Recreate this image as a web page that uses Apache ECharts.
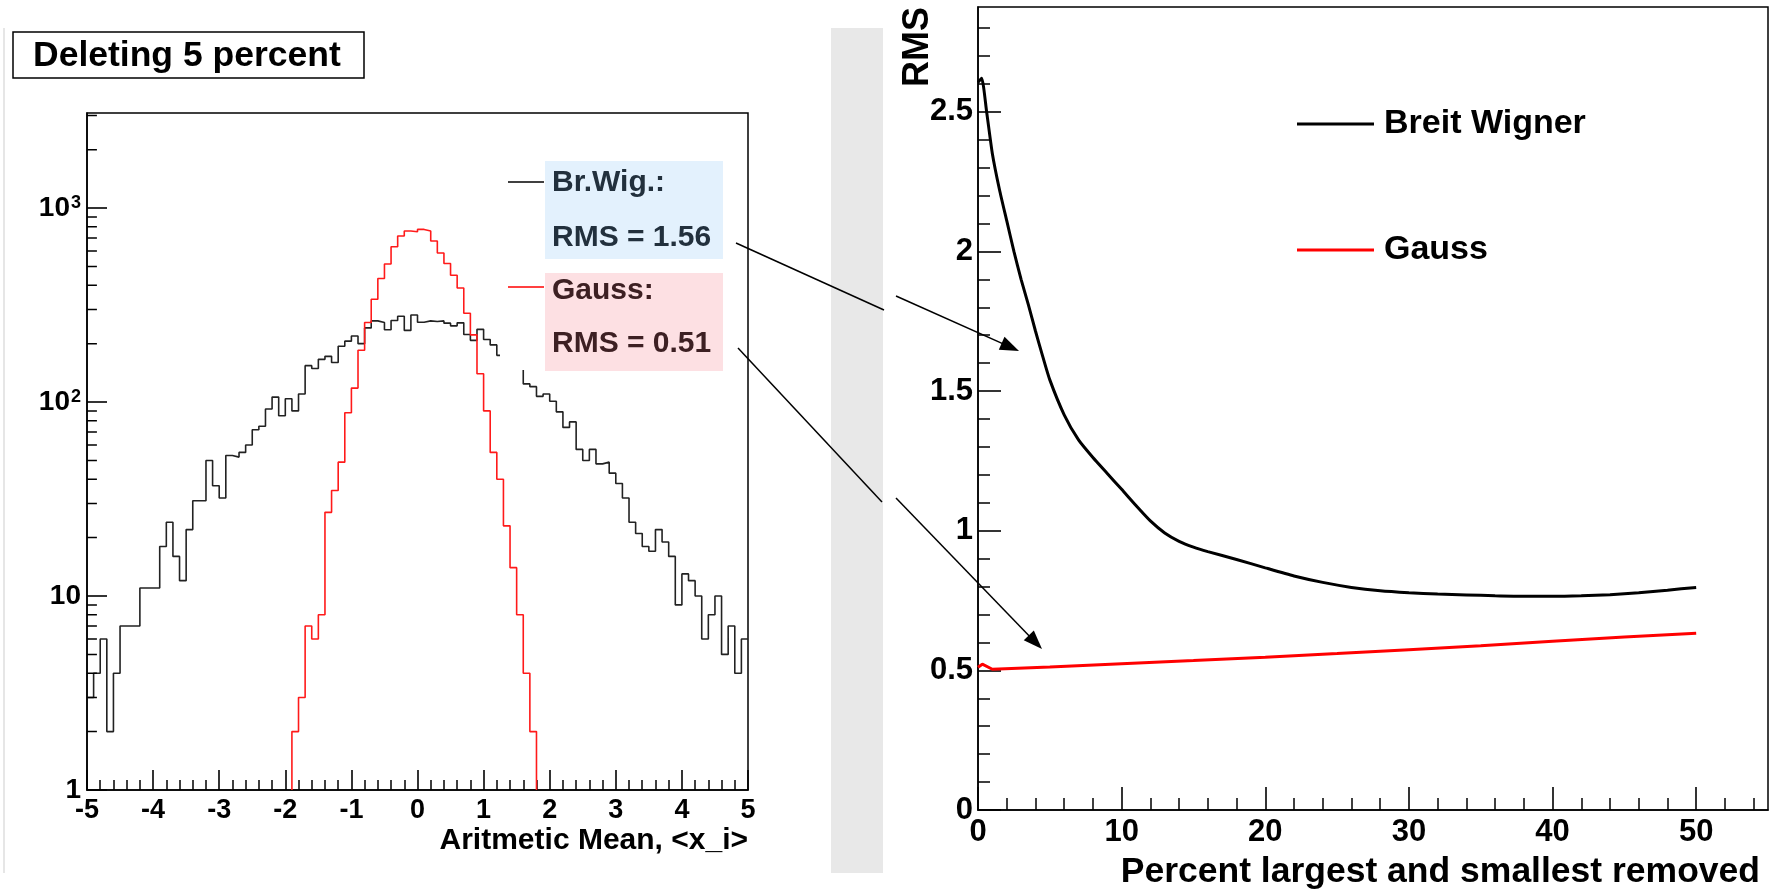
<!DOCTYPE html>
<html><head><meta charset="utf-8">
<script src="https://cdn.jsdelivr.net/npm/echarts@6/dist/echarts.min.js"></script>
<style>html,body{margin:0;padding:0;background:#fff}#c{width:1783px;height:892px}</style>
</head><body><div id="c"></div>
<script>
// ---------- data ----------
const histMin = -5, binWidth = 0.1;
// Breit-Wigner sample histogram (100 bins, -5..5)
const bwCounts = [
  3,4,6,2,4,7,7,7,11,11,
  11,18,24,16,12,22,31,31,50,37,
  32,53,52,55,60,72,75,92,106,85,
  104,90,110,154,149,166,172,160,194,206,
  219,200,241,262,257,236,263,277,234,281,
  258,262,260,262,255,247,256,223,208,237,
  210,197,174,170,160,150,124,120,107,110,
  101,89,74,79,57,50,57,48,49,43,
  38,32,24,21,18,17,22,19,16,9,
  13,12,10,6,8,10,5,7,4,6];
// Gauss sample histogram (100 bins, -5..5)
const gaussCounts = [
  0,0,0,0,0,0,0,0,0,0,
  0,0,0,0,0,0,0,0,0,0,
  0,0,0,0,0,0,0,0,0,0,
  0,2,3,7,6,8,27,35,49,88,
  118,185,257,339,433,515,632,718,762,755,
  776,762,676,586,518,450,387,287,222,140,
  90,55,40,23,14,8,4,2,0,0,
  0,0,0,0,0,0,0,0,0,0,
  0,0,0,0,0,0,0,0,0,0,
  0,0,0,0,0,0,0,0,0,0];
// RMS vs percent removed
const pctBW = [0,0.25,0.6,1,1.5,2,2.5,3,3.5,4,4.5,5,6,7,8,9,10,11,12,13,14,15,16,18,20,22,24,26,28,30,32,34,36,38,40,42,44,46,48,50];
const rmsBW = [2.605,2.62,2.50,2.35,2.22,2.11,2.00,1.90,1.81,1.715,1.625,1.54,1.415,1.325,1.262,1.205,1.148,1.09,1.035,0.992,0.962,0.941,0.925,0.897,0.867,0.838,0.815,0.797,0.785,0.778,0.773,0.770,0.767,0.765,0.765,0.767,0.771,0.778,0.787,0.797];
const pctG = [0,0.3,1,5,10,15,20,25,30,35,40,45,50];
const rmsG = [0.511,0.522,0.504,0.512,0.524,0.535,0.547,0.560,0.574,0.588,0.604,0.619,0.633];
// axis ticks
const leftXTicks = [-5,-4,-3,-2,-1,0,1,2,3,4,5];
const leftYTicks = [1,10,100,1000];
const leftYMinor = [2,3,4,5,6,7,8,9,20,30,40,50,60,70,80,90,200,300,400,500,600,700,800,900,2000,3000];
const rightXTicks = [0,10,20,30,40,50];
const rightYTicks = [0,0.5,1,1.5,2,2.5];
const rightYMinor = [0.1,0.2,0.3,0.4,0.6,0.7,0.8,0.9,1.1,1.2,1.3,1.4,1.6,1.7,1.8,1.9,2.1,2.2,2.3,2.4,2.6,2.7,2.8];
const rightXMinor = [2,4,6,8,12,14,16,18,22,24,26,28,32,34,36,38,42,44,46,48,52,54];
const leftXMinor = [];
for (let i = 0; i < 10; i++) for (let j = 1; j < 5; j++) leftXMinor.push(+(-5 + i + j * 0.2).toFixed(1));

// ---------- helpers ----------
const F = '"Liberation Sans", Arial, Helvetica, sans-serif';
function stepPath(counts, floor) {
  const pts = []; let prev = 0;
  counts.forEach((v, i) => {
    const x0 = +(histMin + i * binWidth).toFixed(2), x1 = +(histMin + (i + 1) * binWidth).toFixed(2);
    if (v > 0) { if (prev === 0 && i > 0) pts.push([x0, floor]); pts.push([x0, v], [x1, v]); }
    else if (prev > 0) pts.push([x0, floor]);
    prev = v;
  });
  return pts;
}
// short horizontal segments at each minor log value, starting at the y axis (x = histMin)
const minorLen = 0.15; // in x-axis units
const logMinorSegments = [];
leftYMinor.forEach(v => { logMinorSegments.push([histMin, v], [histMin + minorLen, v], ['-', '-']); });

const axLine = {show: true, onZero: false, lineStyle: {color: '#000', width: 1.5}};
const lbl = (size, extra) => Object.assign({color: '#000', fontSize: size, fontWeight: 'bold', fontFamily: F}, extra || {});
function minorAxis(grid, type, pos, min, max, vals, len, extra) {
  return Object.assign({gridIndex: grid, type: type, position: pos, min: min, max: max,
    axisLine: {show: false, onZero: false}, axisLabel: {show: false}, splitLine: {show: false},
    axisTick: {show: true, inside: true, length: len, customValues: vals, lineStyle: {color: '#000', width: 1.5}}}, extra || {});
}
function arrowHead(tip, from, len, half) {
  const dx = tip[0] - from[0], dy = tip[1] - from[1], d = Math.hypot(dx, dy);
  const ux = dx / d, uy = dy / d, bx = tip[0] - ux * len, by = tip[1] - uy * len;
  return [tip, [bx - uy * half, by + ux * half], [bx + uy * half, by - ux * half]];
}
const a1from = [896, 296], a1tip = [1019, 351];
const a2from = [896, 498], a2tip = [1042, 649];

const chart = echarts.init(document.getElementById('c'), null, {renderer: 'canvas'});
chart.setOption({
  animation: false,
  backgroundColor: '#fff',
  textStyle: {fontFamily: F},
  grid: [
    {left: 87, top: 113, width: 661, height: 677, show: true, borderColor: '#000', borderWidth: 1.5, backgroundColor: 'transparent', containLabel: false, outerBoundsMode: 'none'},
    {left: 978, top: 7, width: 790, height: 803, show: true, borderColor: '#000', borderWidth: 1.5, backgroundColor: 'transparent', containLabel: false, outerBoundsMode: 'none'}
  ],
  legend: {
    data: ['Breit Wigner', 'Gauss'], orient: 'vertical', left: 1292, top: 99,
    itemWidth: 77, itemHeight: 3, itemGap: 86, icon: 'rect', selectedMode: false,
    textStyle: lbl(34, {lineHeight: 40, padding: [0, 0, 0, 5]})
  },
  xAxis: [
    {gridIndex: 0, type: 'value', position: 'bottom', min: -5, max: 5, interval: 1,
      axisLine: axLine,
      axisTick: {show: true, inside: true, length: 20, customValues: leftXTicks, lineStyle: {color: '#000', width: 1.6}},
      axisLabel: lbl(27, {margin: 7, customValues: leftXTicks, showMinLabel: true, showMaxLabel: true, hideOverlap: false}),
      splitLine: {show: false},
      name: 'Aritmetic Mean, <x_i>', nameLocation: 'end', nameGap: 0, nameMoveOverlap: false,
      nameTextStyle: lbl(30, {align: 'right', verticalAlign: 'top', padding: [36, 0, 0, 0]})},
    minorAxis(0, 'value', 'bottom', -5, 5, leftXMinor, 10),
    {gridIndex: 1, type: 'value', position: 'bottom', min: 0, max: 55,
      axisLine: axLine,
      axisTick: {show: true, inside: true, length: 23, customValues: rightXTicks, lineStyle: {color: '#000', width: 1.6}},
      axisLabel: lbl(31, {margin: 7, customValues: rightXTicks, showMinLabel: true, hideOverlap: false}),
      splitLine: {show: false},
      name: 'Percent largest and smallest removed', nameLocation: 'end', nameGap: 0, nameMoveOverlap: false,
      nameTextStyle: lbl(35.5, {align: 'right', verticalAlign: 'top', padding: [44, 8, 0, 0]})},
    minorAxis(1, 'value', 'bottom', 0, 55, rightXMinor, 12)
  ],
  yAxis: [
    {gridIndex: 0, type: 'log', logBase: 10, position: 'left', min: 1, max: 3090,
      axisLine: axLine,
      axisTick: {show: true, inside: true, length: 20, customValues: leftYTicks, lineStyle: {color: '#000', width: 1.6}},
      axisLabel: {margin: 6, customValues: leftYTicks, showMinLabel: true, hideOverlap: false,
        formatter: v => { const e = Math.round(Math.log10(v)); return e === 0 ? '{b|1}' : e === 1 ? '{b|10}' : '{b|10}{s|' + e + '}'; },
        rich: {b: lbl(28), s: lbl(18, {verticalAlign: 'top', padding: [0, 0, 8, 1]})}},
      splitLine: {show: false}, minorTick: {show: false}},
    {gridIndex: 1, type: 'value', position: 'left', min: 0, max: 2.875,
      axisLine: axLine,
      axisTick: {show: true, inside: true, length: 23, customValues: rightYTicks, lineStyle: {color: '#000', width: 1.6}},
      axisLabel: lbl(31, {margin: 5, customValues: rightYTicks, showMinLabel: true, hideOverlap: false}),
      splitLine: {show: false},
      name: 'RMS', nameLocation: 'end', nameRotate: 90, nameGap: 0, nameMoveOverlap: false,
      nameTextStyle: lbl(36, {align: 'right', verticalAlign: 'bottom', padding: [0, 0, 42, 0]})},
    minorAxis(1, 'value', 'left', 0, 2.875, rightYMinor, 12)
  ],
  series: [
    {type: 'line', name: 'Br.Wig. sample', xAxisIndex: 0, yAxisIndex: 0, data: stepPath(bwCounts, 1),
      showSymbol: false, symbol: 'none', lineStyle: {color: '#222', width: 1.6}, itemStyle: {color: '#222'}, z: 3},
    {type: 'line', name: 'Gauss sample', xAxisIndex: 0, yAxisIndex: 0, data: stepPath(gaussCounts, 1),
      showSymbol: false, symbol: 'none', lineStyle: {color: '#ff1a1a', width: 1.6}, itemStyle: {color: '#ff1a1a'}, z: 4},
    {type: 'line', name: 'log minor ticks', xAxisIndex: 0, yAxisIndex: 0, data: logMinorSegments, connectNulls: false,
      silent: true, showSymbol: false, symbol: 'none', lineStyle: {color: '#000', width: 1.5}, itemStyle: {color: '#000'}, z: 5},
    {type: 'line', name: 'Breit Wigner', xAxisIndex: 2, yAxisIndex: 1, data: pctBW.map((p, i) => [p, rmsBW[i]]),
      smooth: 0.2, showSymbol: false, symbol: 'none', lineStyle: {color: '#000', width: 3}, itemStyle: {color: '#000'}, z: 3},
    {type: 'line', name: 'Gauss', xAxisIndex: 2, yAxisIndex: 1, data: pctG.map((p, i) => [p, rmsG[i]]),
      showSymbol: false, symbol: 'none', lineStyle: {color: '#ff0000', width: 3}, itemStyle: {color: '#ff0000'}, z: 4}
  ],
  graphic: [
    {type: 'rect', z: -5, shape: {x: 831, y: 28, width: 52, height: 845}, style: {fill: '#e8e8e8'}},
    {type: 'line', z: -5, shape: {x1: 4, y1: 28, x2: 4, y2: 873}, style: {stroke: '#e6e6e6', lineWidth: 2}},
    {type: 'rect', z: 100, shape: {x: 13, y: 32, width: 351, height: 46}, style: {fill: '#fff', stroke: '#000', lineWidth: 1.5}},
    {type: 'text', z: 101, x: 33, y: 56, style: {text: 'Deleting 5 percent', fontSize: 35.5, fontWeight: 'bold', fontFamily: F, fill: '#000', verticalAlign: 'middle'}},
    // left legend
    {type: 'rect', z: 100, shape: {x: 500, y: 155, width: 223, height: 215}, style: {fill: '#fff'}},
    {type: 'rect', z: 101, shape: {x: 545, y: 161, width: 178, height: 98}, style: {fill: '#e3f1fd'}},
    {type: 'rect', z: 101, shape: {x: 545, y: 273, width: 178, height: 98}, style: {fill: '#fde0e3'}},
    {type: 'line', z: 102, shape: {x1: 508, y1: 182, x2: 544, y2: 182}, style: {stroke: '#000', lineWidth: 1.5}},
    {type: 'line', z: 102, shape: {x1: 508, y1: 287, x2: 544, y2: 287}, style: {stroke: '#ff0000', lineWidth: 1.5}},
    {type: 'text', z: 102, x: 552, y: 183, style: {text: 'Br.Wig.:', fontSize: 30, fontWeight: 'bold', fontFamily: F, fill: '#22303d', verticalAlign: 'middle'}},
    {type: 'text', z: 102, x: 552, y: 238, style: {text: 'RMS = 1.56', fontSize: 30, fontWeight: 'bold', fontFamily: F, fill: '#22303d', verticalAlign: 'middle'}},
    {type: 'text', z: 102, x: 552, y: 291, style: {text: 'Gauss:', fontSize: 30, fontWeight: 'bold', fontFamily: F, fill: '#3d2023', verticalAlign: 'middle'}},
    {type: 'text', z: 102, x: 552, y: 344, style: {text: 'RMS = 0.51', fontSize: 30, fontWeight: 'bold', fontFamily: F, fill: '#3d2023', verticalAlign: 'middle'}},
    // arrows
    {type: 'line', z: 102, shape: {x1: 736, y1: 243, x2: 884, y2: 310}, style: {stroke: '#000', lineWidth: 1.5}},
    {type: 'line', z: 102, shape: {x1: a1from[0], y1: a1from[1], x2: a1tip[0] - 8, y2: a1tip[1] - 3.6}, style: {stroke: '#000', lineWidth: 1.5}},
    {type: 'polygon', z: 102, shape: {points: arrowHead(a1tip, a1from, 19, 7)}, style: {fill: '#000'}},
    {type: 'line', z: 102, shape: {x1: 738, y1: 348, x2: 882, y2: 502}, style: {stroke: '#000', lineWidth: 1.5}},
    {type: 'line', z: 102, shape: {x1: a2from[0], y1: a2from[1], x2: a2tip[0] - 6, y2: a2tip[1] - 6}, style: {stroke: '#000', lineWidth: 1.5}},
    {type: 'polygon', z: 102, shape: {points: arrowHead(a2tip, a2from, 19, 7)}, style: {fill: '#000'}}
  ]
});
</script></body></html>
